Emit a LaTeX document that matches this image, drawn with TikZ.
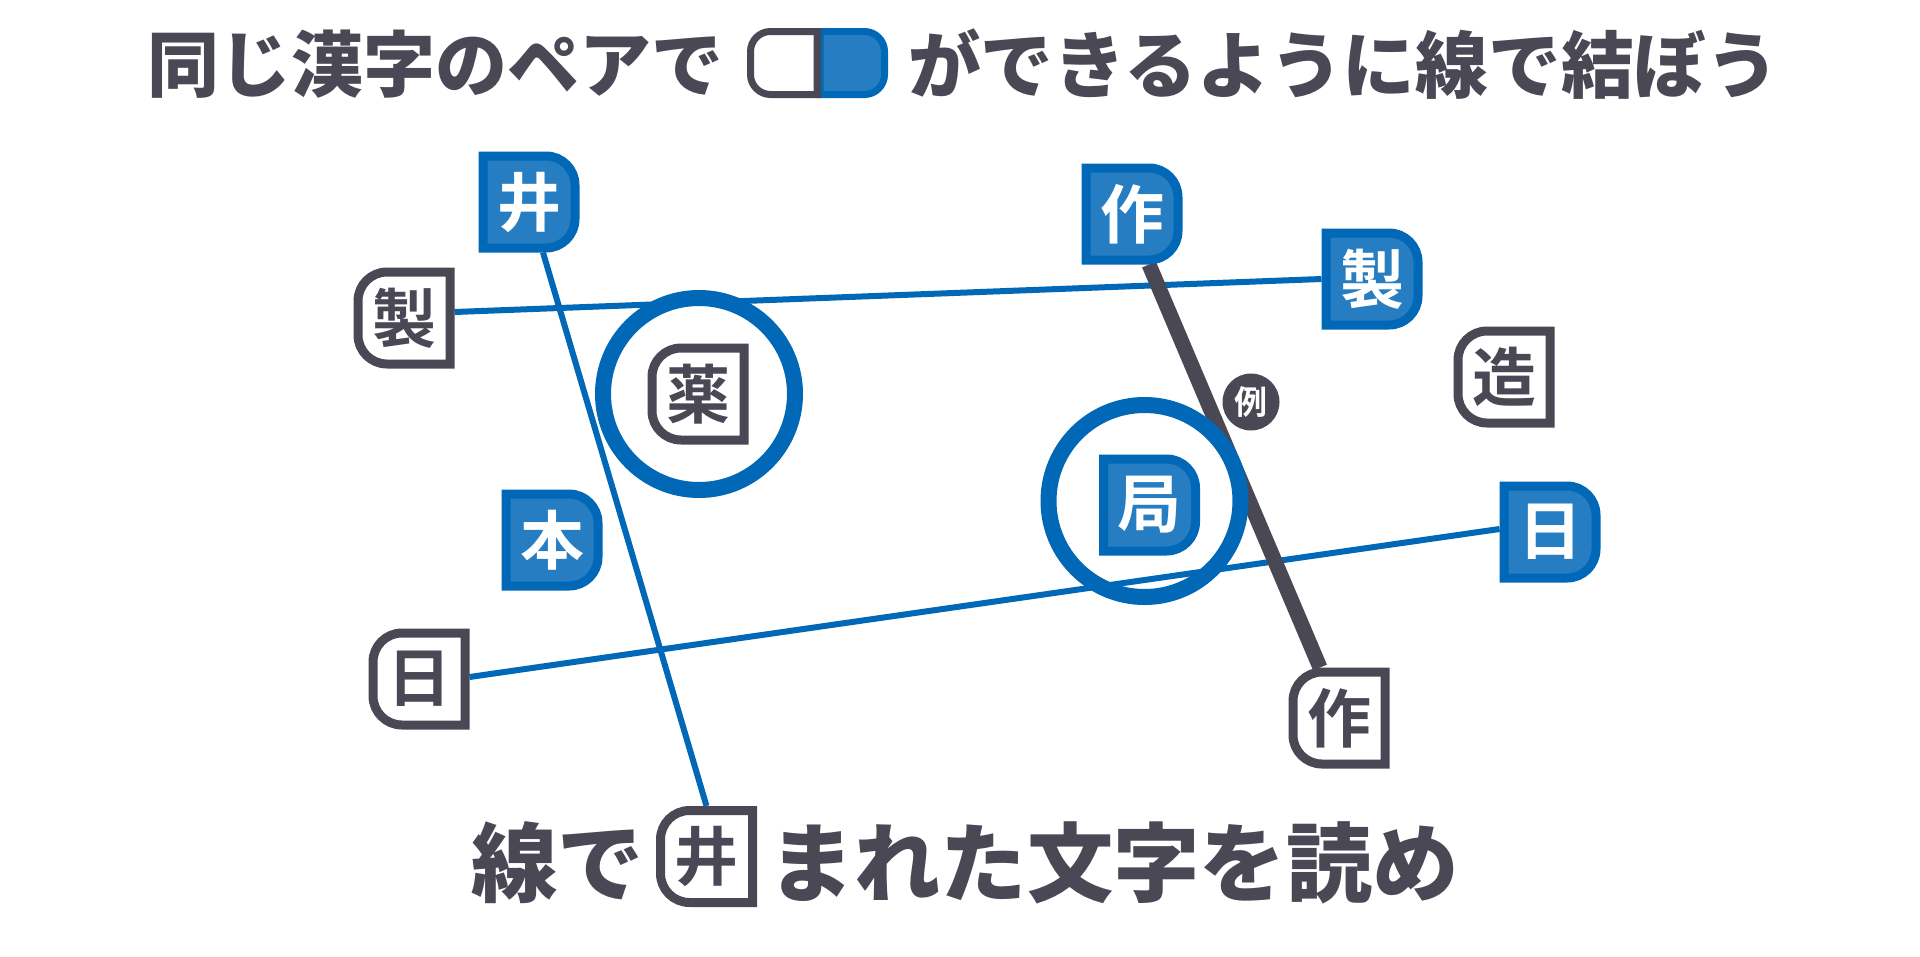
\documentclass[tikz,border=0pt]{standalone}
\usepackage{fontspec}
\usetikzlibrary{backgrounds}
\newfontfamily\jp{Noto Sans CJK JP Black}
\newfontfamily\jpkey{Noto Sans CJK JP Bold}
\definecolor{ink}{HTML}{4A4855}
\definecolor{bluefill}{HTML}{277DC1}
\definecolor{blueline}{HTML}{0068B7}
\tikzset{
  keyframe/.style={minimum size=101pt,inner sep=0pt,outer sep=0pt},
  whitekey/.style={draw=ink,line width=9pt,fill=white,miter limit=10},
  bluekey/.style={draw=blueline,line width=9pt,fill=bluefill,miter limit=10},
  keyglyph/.style={font=\jpkey\fontsize{64}{64}\selectfont,inner sep=0pt},
  headline/.style={font=\jp\fontsize{72}{72}\selectfont,text=ink,inner sep=0pt},
  headlinewide/.style={font=\jp\fontsize{72.7}{72.7}\selectfont,text=ink,inner sep=0pt},
  footline/.style={font=\jp\fontsize{86.3}{86.3}\selectfont,text=ink,inner sep=0pt},
  wire/.style={draw=blueline,line width=6pt},
  examplewire/.style={draw=ink,line width=15pt},
  ring/.style={draw=blueline,line width=16pt},
  capsuleink/.style={draw=ink,line width=7pt,fill=white},
  capsuleblue/.style={draw=blueline,line width=7pt,fill=bluefill},
  badge/.style={circle,fill=ink,minimum size=57pt,inner sep=0pt,text=white,font=\jpkey\fontsize{33}{33}\selectfont},
}
\newcommand{\whitekeybox}[4]{%
  \node[keyframe] (#1) at (#2,#3) {};
  \draw[whitekey] ([shift={(-4.5,4.5)}]#1.north east) [rounded corners=29pt] -- ([shift={(4.5,4.5)}]#1.north west) -- ([shift={(4.5,-4.5)}]#1.south west) [sharp corners] -- ([shift={(-4.5,-4.5)}]#1.south east) -- cycle;
  \node[keyglyph,text=ink] (#1g) at (#2,#3) {#4};
}
\newcommand{\bluekeybox}[4]{%
  \node[keyframe] (#1) at (#2,#3) {};
  \draw[bluekey] ([shift={(4.5,4.5)}]#1.north west) [rounded corners=29pt] -- ([shift={(-4.5,4.5)}]#1.north east) -- ([shift={(-4.5,-4.5)}]#1.south east) [sharp corners] -- ([shift={(4.5,-4.5)}]#1.south west) -- cycle;
  \node[keyglyph,text=white] (#1g) at (#2,#3) {#4};
}
\begin{document}
\begin{tikzpicture}[x=1pt,y=-1pt]
\useasboundingbox (0,0) rectangle (1920,956);
\begin{scope}[on background layer]
\fill[white] (0,0) rectangle (1920,956);
\end{scope}

% headings
\node[headline,anchor=west] (head1) at (147,64) {同じ漢字のペアで};
\node[headlinewide,anchor=west] (head2) at (908,64) {ができるように線で結ぼう};
\node[footline,anchor=west] (foot1) at (471,863) {線で};
\node[footline,anchor=west] (foot2) at (768,863) {まれた文字を読め};

% legend capsule
\draw[capsuleink] (817,31.5) [rounded corners=20pt] -- (750.5,31.5) -- (750.5,94.5) [sharp corners] -- (817,94.5) -- cycle;
\draw[capsuleblue] (820,31.5) [rounded corners=20pt] -- (884.5,31.5) -- (884.5,94.5) [sharp corners] -- (820,94.5) -- cycle;
\draw[draw=ink,line width=7pt] (817.5,28) -- (817.5,98);

% keys
\bluekeybox{jingB}{529}{202}{井}
\whitekeybox{seiW}{404}{318}{製}
\whitekeybox{yaku}{698}{394}{薬}
\bluekeybox{hon}{552}{540}{本}
\whitekeybox{hiW}{419}{679}{日}
\bluekeybox{sakuB}{1132}{214}{作}
\bluekeybox{seiB}{1372}{279}{製}
\whitekeybox{zou}{1504}{377}{造}
\bluekeybox{kyoku}{1149.5}{505}{局}
\bluekeybox{hiB}{1550}{532}{日}
\whitekeybox{sakuW}{1339}{718}{作}
\whitekeybox{jingW}{706.5}{856.5}{井}

% connectors
\begin{scope}[on background layer]
\draw[wire] ([xshift=14pt]jingB.south) -- (jingW.north);
\draw[wire] ([yshift=6pt]seiW.east) -- (seiB.west);
\draw[wire] ([yshift=2pt]hiW.east) -- ([yshift=3pt]hiB.west);
\draw[examplewire] ([xshift=17pt]sakuB.south) -- ([xshift=-19pt]sakuW.north);
\end{scope}

% rings and badge
\draw[ring] (699,394) circle[radius=96];
\draw[ring] (1144.5,501) circle[radius=96];
\node[badge] (rei) at (1251,402) {例};
\end{tikzpicture}
\end{document}
